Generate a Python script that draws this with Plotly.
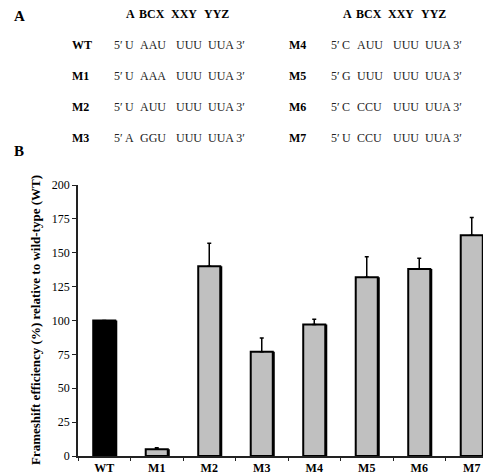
import plotly.graph_objects as go

# ---- data ----
categories = ["WT", "M1", "M2", "M3", "M4", "M5", "M6", "M7"]
efficiency = [100, 5, 140, 77, 97, 132, 138, 163]
error_plus = [0, 1, 17, 10, 4, 15, 8, 13]
bar_colors = ["#000000"] + ["#C0C0C0"] * 7

y_ticks = [0, 25, 50, 75, 100, 125, 150, 175, 200]

header_tokens = ["A", "BCX", "XXY", "YYZ"]
left_names = ["WT", "M1", "M2", "M3"]
left_seqs = [
    ["5′\u2009U", "AAU", "UUU", "UUA 3′"],
    ["5′\u2009U", "AAA", "UUU", "UUA 3′"],
    ["5′\u2009U", "AUU", "UUU", "UUA 3′"],
    ["5′\u2009A", "GGU", "UUU", "UUA 3′"],
]
right_names = ["M4", "M5", "M6", "M7"]
right_seqs = [
    ["5′\u2009C", "AUU", "UUU", "UUA 3′"],
    ["5′\u2009G", "UUU", "UUU", "UUA 3′"],
    ["5′\u2009C", "CCU", "UUU", "UUA 3′"],
    ["5′\u2009U", "CCU", "UUU", "UUA 3′"],
]

W, H = 491, 474
L, R, T, B = 70, 1, 177, 26
PW, PH = W - L - R, H - T - B


def px(x):
    return (x - L) / PW


def py(y):
    return (H - B - y) / PH


SERIF = "Liberation Serif, Times New Roman, serif"
BAR_W = 0.42
SHADOW = 2.0 / (PW / len(categories))

fig = go.Figure()
# dark right-edge shadow behind each bar
fig.add_trace(go.Bar(
    x=categories, y=efficiency, width=BAR_W, offset=-BAR_W / 2 + SHADOW,
    marker=dict(color="#000000", line=dict(width=0)),
    showlegend=False, hoverinfo="skip",
))
fig.add_trace(go.Bar(
    x=categories, y=efficiency, width=BAR_W, offset=-BAR_W / 2,
    marker=dict(color=bar_colors, line=dict(color="#000000", width=2)),
    error_y=dict(type="data", array=error_plus, arrayminus=[0] * len(error_plus),
                 symmetric=False, color="#000000", thickness=1.5, width=2),
    showlegend=False,
))

ann = []


def note(x, y, text, size=12, color="#000", **kw):
    d = dict(x=px(x), y=py(y), xref="paper", yref="paper", text=text,
             xanchor="left", yanchor="middle", showarrow=False,
             font=dict(family=SERIF, size=size, color=color))
    d.update(kw)
    ann.append(d)


note(4, 8, "<b>A</b>", size=15)
note(4, 143, "<b>B</b>", size=15)

col_hdr = [116, 129, 161, 194]
col_seq = [104, 130, 166, 198]
row_y = [37, 68, 99, 130]
for off, names, seqs in [(0, left_names, left_seqs), (217, right_names, right_seqs)]:
    for tok, cx in zip(header_tokens, col_hdr):
        note(cx + off, 6, "<b>" + tok + "</b>")
    for name, seq, ry in zip(names, seqs, row_y):
        note(62 + off, ry, "<b>" + name + "</b>")
        for tok, cx in zip(seq, col_seq):
            note(cx + off, ry, tok, color="#222")

note(27, 312, "<b>Frameshift efficiency (%) relative to wild-type (WT)</b>", size=13,
     textangle=-90, xanchor="center")

fig.update_layout(
    width=W, height=H,
    margin=dict(l=L, r=R, t=T, b=B, pad=0),
    paper_bgcolor="white", plot_bgcolor="white",
    barmode="overlay",
    annotations=ann,
    xaxis=dict(type="category", showline=True, linecolor="#222", linewidth=1.5,
               ticks="outside", tickson="boundaries", ticklen=3, tickcolor="#222",
               showgrid=False, zeroline=False,
               tickfont=dict(family=SERIF, size=12, color="#000"),
               tickvals=categories, ticktext=["<b>" + c + "</b>" for c in categories]),
    yaxis=dict(range=[0, 200], tickvals=y_ticks, showline=True, linecolor="#222", linewidth=1.5,
               ticks="outside", ticklen=4, tickcolor="#222", showgrid=False, zeroline=False,
               tickfont=dict(family=SERIF, size=12, color="#000")),
)

fig.write_html("out.html")
